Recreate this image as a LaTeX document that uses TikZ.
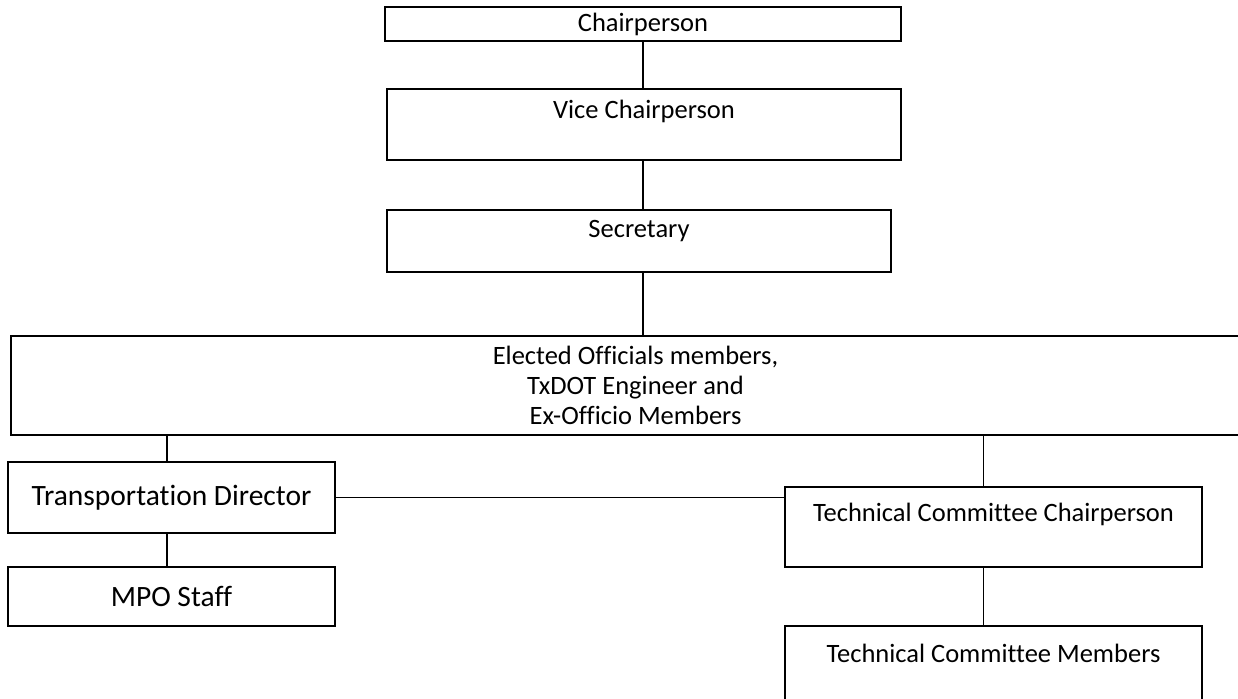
\documentclass[tikz,border=0pt]{standalone}
\usepackage{fontspec}
\setmainfont[Ligatures=NoCommon]{Carlito}

\begin{document}
\begin{tikzpicture}[x=0.5pt,y=-0.5pt]
    \tikzstyle{box}=[draw,line width=0.85pt,inner sep=0pt,align=center,font=\fontsize{13.25}{15}\selectfont]
    \tikzstyle{bigbox}=[box,font=\fontsize{14.75}{17}\selectfont]
    \tikzstyle{link}=[line width=0.85pt]
    \useasboundingbox (0,0) rectangle (1238,698);
    \node[box,minimum width=258pt,minimum height=17pt] (chair) at (643,24) {Chairperson};
    \node[box,minimum width=257pt,minimum height=35.5pt] (vice) at (644,124.5) {Vice Chairperson\\~};
    \node[box,minimum width=252pt,minimum height=31pt] (sec) at (639,241) {Secretary\\[-3pt]~};
    \node[box,minimum width=624.5pt,minimum height=49.5pt] (elec) at (635.5,385.5) {Elected Officials members,\\TxDOT Engineer and\\Ex-Officio Members};
    \node[bigbox,minimum width=163.5pt,minimum height=35.5pt] (td) at (171.5,497.5) {Transportation Director};
    \node[bigbox,minimum width=163.5pt,minimum height=29.5pt] (mpo) at (171.5,596.5) {MPO Staff};
    \node[box,minimum width=208.5pt,minimum height=40pt] (tcc) at (993.5,527) {Technical Committee Chairperson\\~};
    \node[box,minimum width=208.5pt,minimum height=42pt] (tcm) at (993.5,668) {Technical Committee Members\\~};
    \draw[link] (chair.south) -- (chair.south |- vice.north);
    \draw[link] (chair.south |- vice.south) -- (chair.south |- sec.north);
    \draw[link] (chair.south |- sec.south) -- (chair.south |- elec.north);
    \draw[link] ([xshift=-2.25pt]td.north) -- ([xshift=-2.25pt]td.north |- elec.south);
    \draw[link] ([xshift=-2.25pt]td.south) -- ([xshift=-2.25pt]mpo.north);
    \draw[link] ([xshift=-5pt]tcc.north) -- ([xshift=-5pt]tcc.north |- elec.south);
    \draw[link] ([xshift=-5pt]tcc.south) -- ([xshift=-5pt]tcm.north);
    \draw[link] (td.east) -- (td.east -| tcc.west);
\end{tikzpicture}
\end{document}
